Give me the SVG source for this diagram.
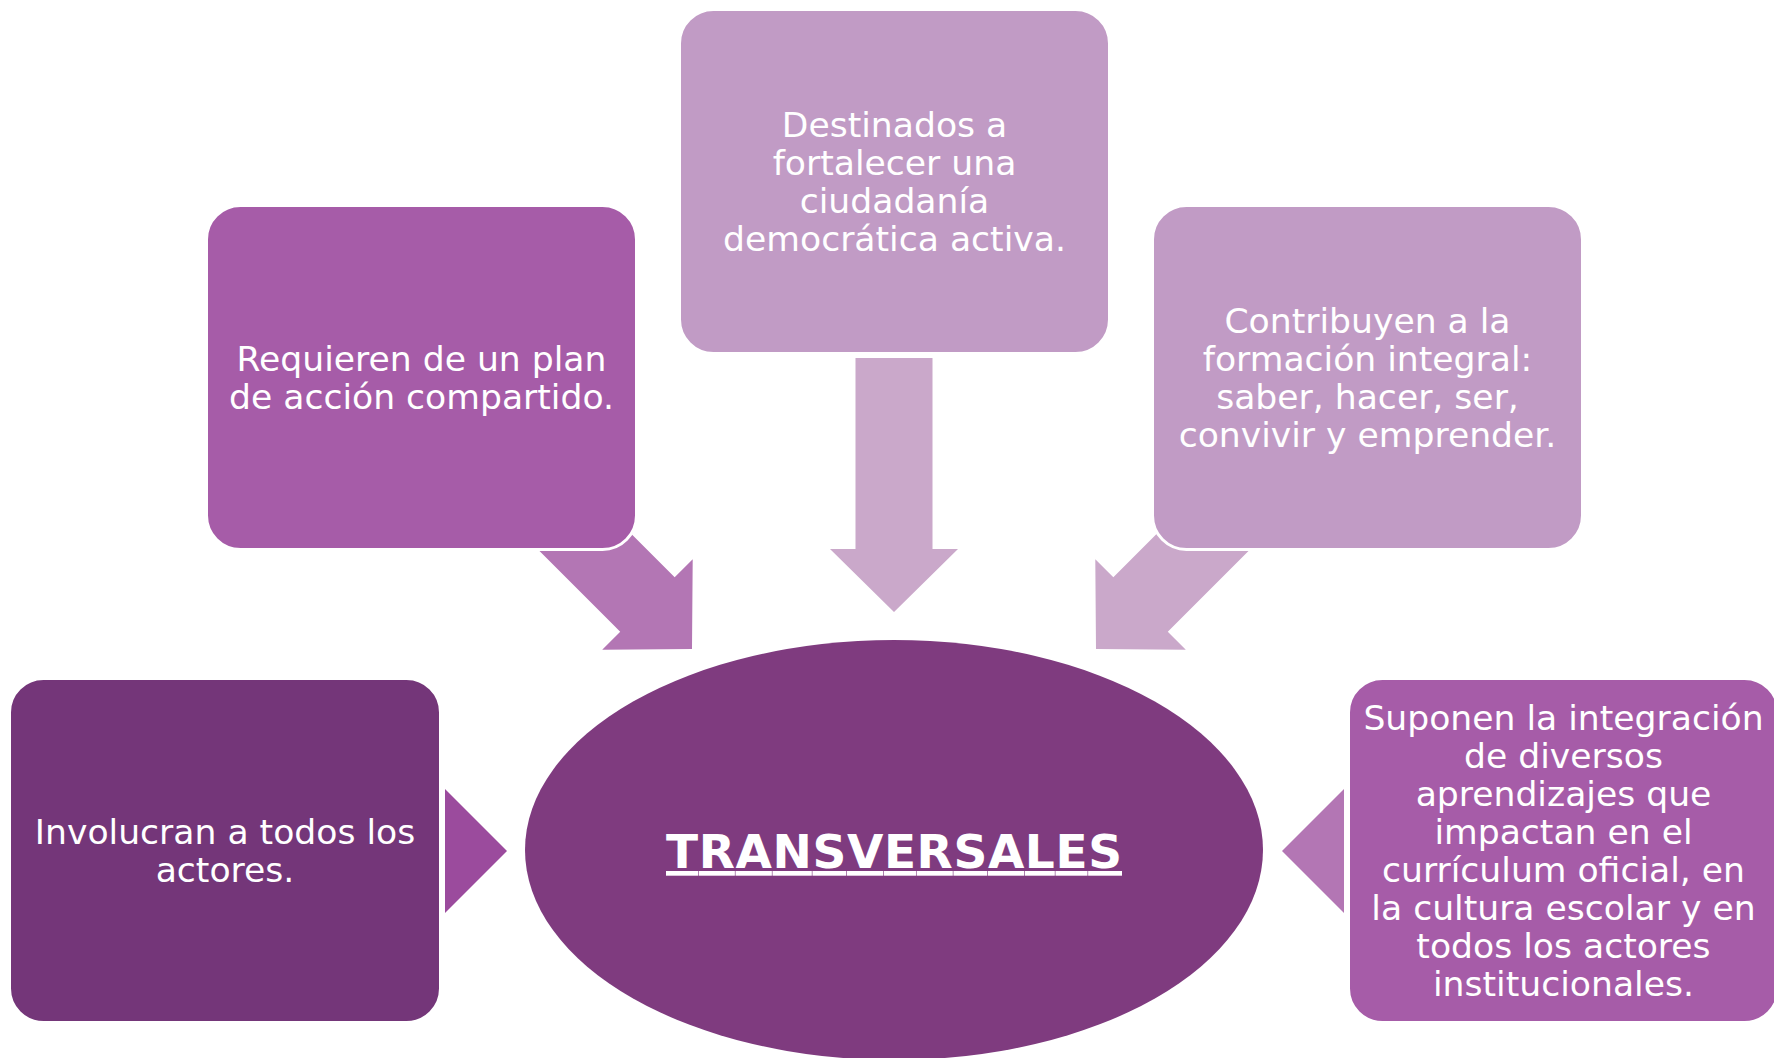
<svg xmlns="http://www.w3.org/2000/svg" width="1774" height="1058" viewBox="0 0 1774 1058">
<defs>
<style>
.box{stroke:#ffffff;stroke-width:3}
.t{font-family:"DejaVu Sans","Verdana",sans-serif;font-size:34.6px;fill:#ffffff;text-anchor:middle}
.title{font-family:"DejaVu Sans","Verdana",sans-serif;font-size:47px;font-weight:bold;fill:#ffffff;text-anchor:middle;text-decoration:underline}
</style>
<polygon id="arrow" points="0,0 -63,-64 -63,-38.5 -254,-38.5 -254,38.5 -63,38.5 -63,64"/>
<polygon id="head" points="0,0 -62,-62 -62,62"/>
</defs>
<rect width="1774" height="1058" fill="#ffffff"/>
<g id="connectors">
<use href="#arrow" transform="translate(894,612) rotate(90)" fill="#caa8ca"/>
<use href="#arrow" transform="translate(692,649) rotate(45)" fill="#b376b4"/>
<use href="#arrow" transform="translate(1096,649) rotate(135)" fill="#caa8ca"/>
<use href="#head" transform="translate(507,851)" fill="#9b4b9d"/>
<use href="#head" transform="translate(1282,851) rotate(180)" fill="#b376b4"/>
</g>
<g id="center">
<ellipse cx="894" cy="850" rx="369" ry="210" fill="#7f3b7f"/>
<text class="title" x="894" y="868" textLength="456" lengthAdjust="spacing">TRANSVERSALES</text>
</g>
<g id="node-top">
<rect class="box" x="679.5" y="9.5" width="430" height="344" rx="34" fill="#c19bc5"/>
<text class="t" x="894.5" y="136.5">Destinados a</text>
<text class="t" x="894.5" y="174.5">fortalecer una</text>
<text class="t" x="894.5" y="212.5">ciudadanía</text>
<text class="t" x="894.5" y="250.5">democrática activa.</text>
</g>
<g id="node-top-left">
<rect class="box" x="206.5" y="205.5" width="430" height="344" rx="34" fill="#a65ca8"/>
<text class="t" x="421.5" y="371">Requieren de un plan</text>
<text class="t" x="421.5" y="409">de acción compartido.</text>
</g>
<g id="node-top-right">
<rect class="box" x="1152.5" y="205.5" width="430" height="344" rx="34" fill="#c19bc5"/>
<text class="t" x="1367.5" y="333">Contribuyen a la</text>
<text class="t" x="1367.5" y="371">formación integral:</text>
<text class="t" x="1367.5" y="409">saber, hacer, ser,</text>
<text class="t" x="1367.5" y="447">convivir y emprender.</text>
</g>
<g id="node-left">
<rect class="box" x="9.5" y="678.5" width="431" height="344" rx="34" fill="#743679"/>
<text class="t" x="225" y="844">Involucran a todos los</text>
<text class="t" x="225" y="882">actores.</text>
</g>
<g id="node-right">
<rect class="box" x="1348.5" y="678.5" width="430" height="344" rx="34" fill="#a65ca8"/>
<text class="t" x="1563.5" y="730">Suponen la integración</text>
<text class="t" x="1563.5" y="768">de diversos</text>
<text class="t" x="1563.5" y="806">aprendizajes que</text>
<text class="t" x="1563.5" y="844">impactan en el</text>
<text class="t" x="1563.5" y="882">currículum oficial, en</text>
<text class="t" x="1563.5" y="920">la cultura escolar y en</text>
<text class="t" x="1563.5" y="958">todos los actores</text>
<text class="t" x="1563.5" y="996">institucionales.</text>
</g>
</svg>
